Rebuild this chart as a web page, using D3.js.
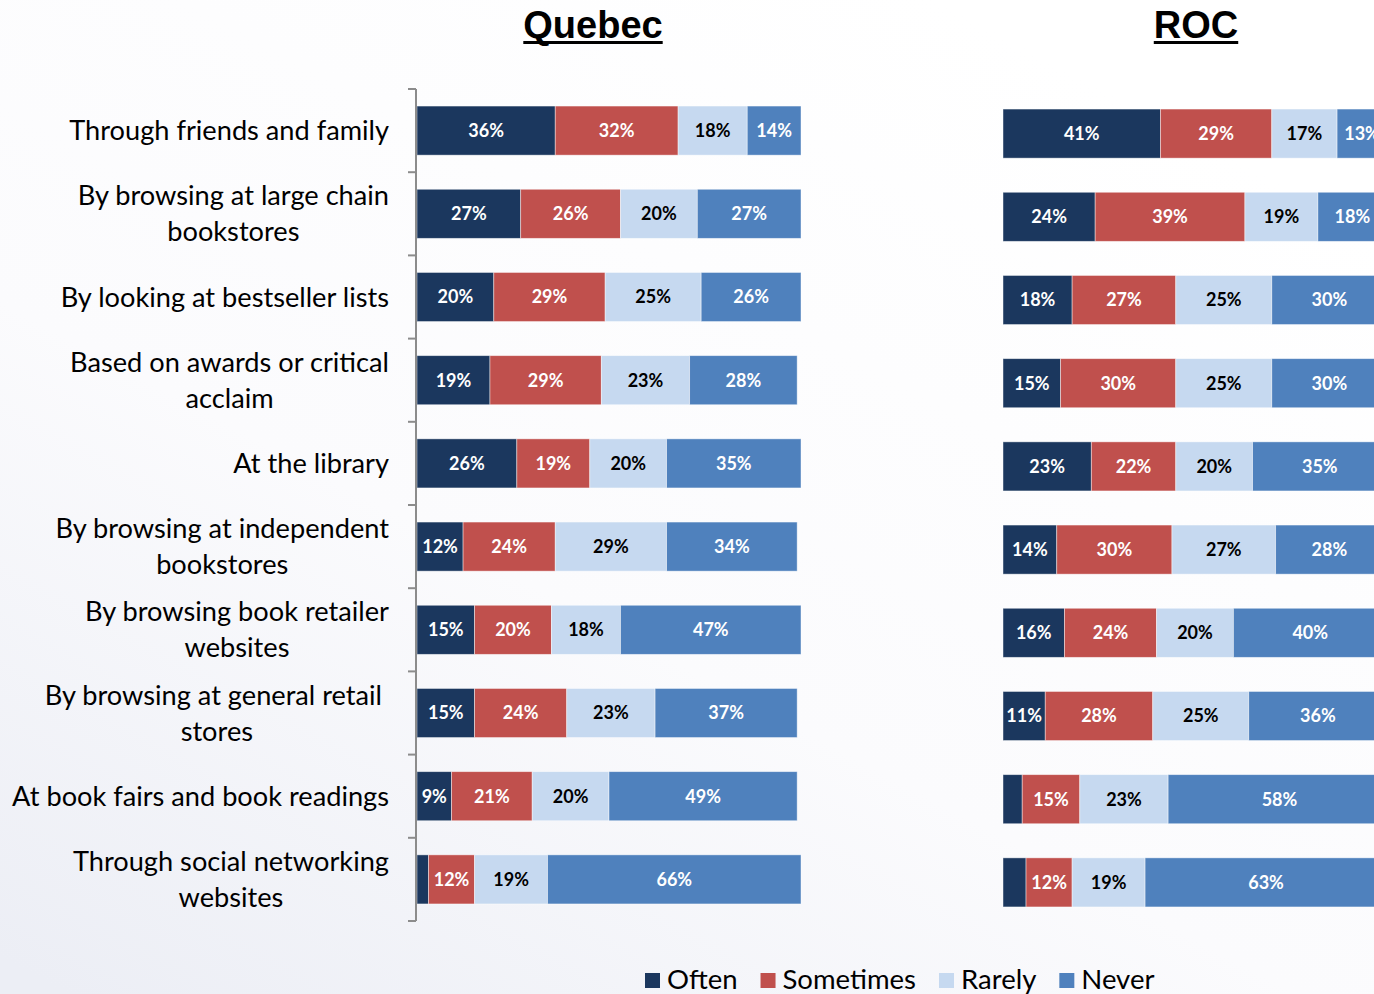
<!DOCTYPE html>
<html>
<head>
<meta charset="utf-8">
<script src="https://cdn.jsdelivr.net/npm/d3@7"></script>
<style>
  html, body { margin: 0; padding: 0; overflow: hidden; }
  svg { display: block; }
</style>
</head>
<body>
<svg id="chart" width="1374" height="994"></svg>
<script>
// Where respondents discover books: share answering Often / Sometimes / Rarely / Never
const categories = [
  ["Through friends and family"],
  ["By browsing at large chain", "bookstores"],
  ["By looking at bestseller lists"],
  ["Based on awards or critical", "acclaim"],
  ["At the library"],
  ["By browsing at independent", "bookstores"],
  ["By browsing book retailer", "websites"],
  ["By browsing at general retail\u00a0", "stores"],
  ["At book fairs and book readings"],
  ["Through social networking", "websites"]
];
const seriesNames = ["Often", "Sometimes", "Rarely", "Never"];
const seriesColors = ["#1b375e", "#c0504d", "#c6d9f0", "#4f81bd"];
const labelColors = ["#ffffff", "#ffffff", "#000000", "#ffffff"];

const quebecOften     = [36, 27, 20, 19, 26, 12, 15, 15, 9, 3];
const quebecSometimes = [32, 26, 29, 29, 19, 24, 20, 24, 21, 12];
const quebecRarely    = [18, 20, 25, 23, 20, 29, 18, 23, 20, 19];
const quebecNever     = [14, 27, 26, 28, 35, 34, 47, 37, 49, 66];

const rocOften     = [41, 24, 18, 15, 23, 14, 16, 11, 5, 6];
const rocSometimes = [29, 39, 27, 30, 22, 30, 24, 28, 15, 12];
const rocRarely    = [17, 19, 25, 25, 20, 27, 20, 25, 23, 19];
const rocNever     = [13, 18, 30, 30, 35, 28, 40, 36, 58, 63];

const panelTitles = ["Quebec", "ROC"];

const svg = d3.select("#chart");

// soft slide background
const defs = svg.append("defs");
const bg = defs.append("linearGradient").attr("id", "bg")
  .attr("x1", "0.75").attr("y1", "0.05").attr("x2", "0.05").attr("y2", "1");
bg.append("stop").attr("offset", "0").attr("stop-color", "#ffffff");
bg.append("stop").attr("offset", "0.55").attr("stop-color", "#fbfbfd");
bg.append("stop").attr("offset", "1").attr("stop-color", "#eceef5");
svg.append("rect").attr("width", 1374).attr("height", 994).attr("fill", "url(#bg)");

const keys = categories.map((c, i) => i);

function buildRows(often, sometimes, rarely, never) {
  return keys.map(i => ({ i, Often: often[i], Sometimes: sometimes[i], Rarely: rarely[i], Never: never[i] }));
}

const panels = [
  { title: panelTitles[0], rows: buildRows(quebecOften, quebecSometimes, quebecRarely, quebecNever),
    x0: 417, top: 89, bottom: 921, titleX: 593, axis: true },
  { title: panelTitles[1], rows: buildRows(rocOften, rocSometimes, rocRarely, rocNever),
    x0: 1003, top: 92, bottom: 924, titleX: 1196, axis: false }
];

const stack = d3.stack().keys(seriesNames);
const color = d3.scaleOrdinal().domain(seriesNames).range(seriesColors);
const labelColor = d3.scaleOrdinal().domain(seriesNames).range(labelColors);

panels.forEach(p => {
  const x = d3.scaleLinear().domain([0, 100]).range([p.x0, p.x0 + 384]);
  const y = d3.scaleBand().domain(keys).range([p.top, p.bottom])
    .paddingInner(0.41).paddingOuter(0.205);
  const layers = stack(p.rows);

  const g = svg.append("g");
  const layer = g.selectAll("g.layer").data(layers).join("g")
    .attr("class", "layer")
    .attr("fill", d => color(d.key));

  layer.selectAll("rect").data(d => d).join("rect")
    .attr("x", d => x(d[0]))
    .attr("y", d => y(d.data.i))
    .attr("width", d => x(d[1]) - x(d[0]))
    .attr("height", y.bandwidth())
    .attr("stroke", "rgba(255,255,255,0.55)")
    .attr("stroke-width", 0.8);

  layer.selectAll("text").data(d => d.map(v => Object.assign(v, { key: d.key }))).join("text")
    .filter(d => d[1] - d[0] >= 8.5)
    .attr("x", d => (x(d[0]) + x(d[1])) / 2)
    .attr("y", d => y(d.data.i) + y.bandwidth() / 2)
    .attr("dy", "0.35em")
    .attr("text-anchor", "middle")
    .attr("font-family", "Lato, 'Open Sans', sans-serif")
    .attr("font-weight", "bold")
    .attr("font-size", 18)
    .attr("fill", d => labelColor(d.key))
    .text(d => Math.round(d[1] - d[0]) + "%");

  // panel title, underlined
  const t = svg.append("text")
    .attr("x", p.titleX).attr("y", 38)
    .attr("text-anchor", "middle")
    .attr("font-family", "'Liberation Sans Narrow', 'Liberation Sans', Arial, sans-serif")
    .attr("font-weight", "bold")
    .attr("font-size", 38)
    .attr("fill", "#000")
    .text(p.title);
  const tw = t.node().getComputedTextLength();
  svg.append("rect")
    .attr("x", p.titleX - tw / 2).attr("y", 41)
    .attr("width", tw).attr("height", 3).attr("fill", "#000");

  if (p.axis) {
    const axis = d3.axisLeft(y).tickSize(0).tickFormat("");
    const ag = svg.append("g").attr("transform", `translate(${p.x0 - 1},0)`).call(axis);
    ag.select(".domain").attr("stroke", "#8c8c8c").attr("stroke-width", 2)
      .attr("d", `M0,${p.top}V${p.bottom}`);
    // category boundary ticks
    const bounds = keys.map(k => y(k) - y.step() * y.paddingInner() / 2).concat([p.bottom]);
    ag.selectAll("line.bound").data(bounds).join("line")
      .attr("class", "bound")
      .attr("x1", -8).attr("x2", 0)
      .attr("y1", d => d).attr("y2", d => d)
      .attr("stroke", "#8c8c8c").attr("stroke-width", 2);

    // category labels: lines centred on each other, block right-aligned to the axis
    const labelG = svg.append("g")
      .attr("font-family", "Lato, 'Open Sans', sans-serif")
      .attr("font-size", 27.2)
      .attr("fill", "#000");
    const rightEdge = 389;
    categories.forEach((lines, k) => {
      const cy = y(k) + y.bandwidth() / 2;
      const texts = lines.map((line, li) => labelG.append("text")
        .attr("y", cy + (li - (lines.length - 1) / 2) * 36)
        .attr("dy", "0.35em")
        .attr("text-anchor", "middle")
        .text(line));
      const widest = d3.max(texts, tx => tx.node().getComputedTextLength());
      texts.forEach(tx => tx.attr("x", rightEdge - widest / 2));
    });
  }
});

// legend
const legend = svg.append("g")
  .attr("font-family", "Lato, 'Open Sans', sans-serif")
  .attr("font-size", 27.5);
let lx = 645;
seriesNames.forEach((name, k) => {
  legend.append("rect").attr("x", lx).attr("y", 973).attr("width", 15).attr("height", 15)
    .attr("fill", color(name));
  const tx = legend.append("text").attr("x", lx + 22).attr("y", 989).attr("fill", "#000").text(name);
  lx += 22 + tx.node().getComputedTextLength() + 23;
});
</script>
</body>
</html>
